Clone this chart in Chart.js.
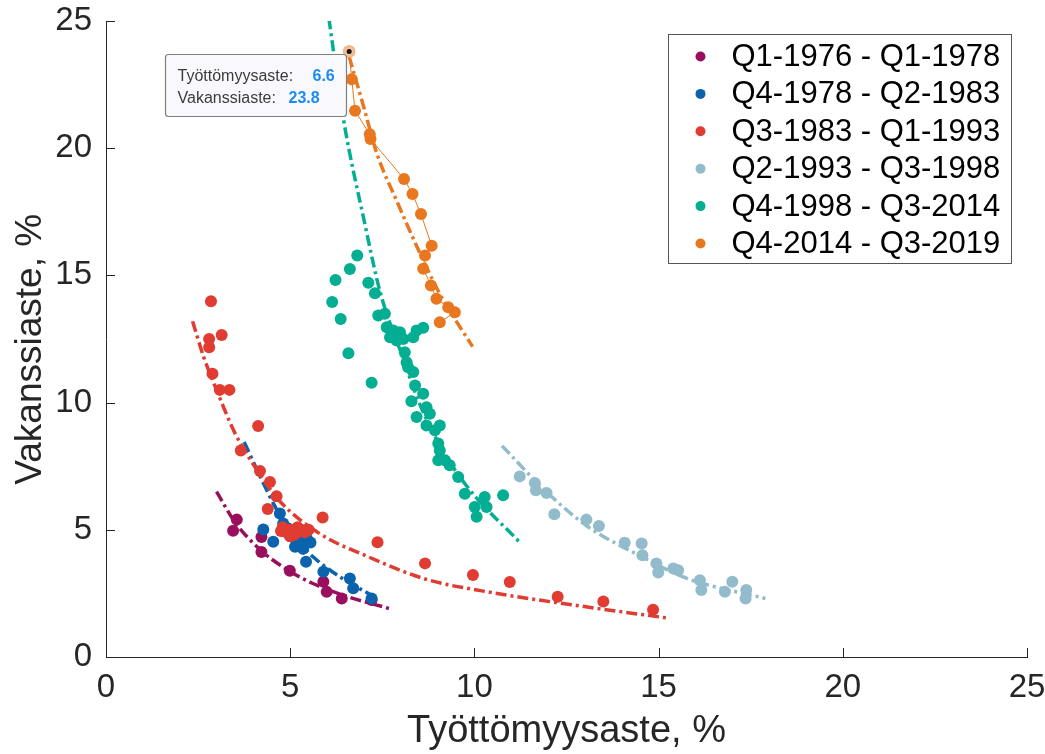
<!DOCTYPE html>
<html>
<head>
<meta charset="utf-8">
<script src="https://cdn.jsdelivr.net/npm/chart.js@4.4.1/dist/chart.umd.min.js"></script>
<style>
  html, body { margin: 0; padding: 0; background: #fff; }
  #wrap { width: 1045px; height: 754px; }
</style>
</head>
<body>
<div id="wrap"><canvas id="chart" width="1045" height="754"></canvas></div>
<script>
// series labels and colours
const labels = ['Q1-1976 - Q1-1978', 'Q4-1978 - Q2-1983', 'Q3-1983 - Q1-1993',
                'Q2-1993 - Q3-1998', 'Q4-1998 - Q3-2014', 'Q4-2014 - Q3-2019'];
const colors = ['#990f5e', '#0b63ad', '#e03c31', '#92bccb', '#03ae92', '#e8771f'];

// axis ticks
const xTicks = [0, 5, 10, 15, 20, 25];
const yTicks = [0, 5, 10, 15, 20, 25];

// observed points (unemployment %, vacancy %)
const x1 = [3.55, 3.45, 4.22, 4.22, 4.99, 5.90, 5.99, 6.40, 7.21];
const y1 = [5.40, 4.96, 4.72, 4.13, 3.39, 2.96, 2.56, 2.30, 2.24];

const x2 = [4.27, 4.54, 4.72, 4.81, 5.13, 5.45, 5.26, 5.43, 5.90, 6.62, 6.71, 7.21, 5.00, 5.20, 5.35, 5.55, 4.95];
const y2 = [5.01, 4.53, 5.64, 5.25, 4.33, 4.66, 4.46, 3.74, 3.35, 3.09, 2.70, 2.30, 4.75, 4.60, 4.25, 4.50, 5.05];

const x3 = [2.85, 2.80, 3.14, 2.80, 2.89, 3.09, 3.35, 4.13, 3.66, 4.18, 4.45, 4.63, 4.39, 4.80, 4.90, 5.00, 5.10,
            5.20, 5.30, 5.00, 4.75, 5.40, 5.50, 5.20, 5.88, 7.37, 8.66, 9.96, 10.96, 12.26, 13.50, 14.85];
const y3 = [13.98, 12.50, 12.66, 12.18, 11.13, 10.50, 10.50, 9.08, 8.12, 7.31, 6.88, 6.32, 5.82, 5.10, 4.90, 5.00, 4.80,
            4.90, 5.00, 4.75, 4.95, 4.90, 5.00, 5.10, 5.48, 4.51, 3.68, 3.22, 2.95, 2.37, 2.18, 1.86];

const x4 = [11.23, 11.64, 11.67, 11.96, 12.17, 13.04, 13.38, 14.08, 14.54, 14.56, 14.94, 14.99, 15.40, 15.53,
            16.12, 16.16, 16.80, 17.00, 17.38, 17.36];
const y4 = [7.10, 6.84, 6.55, 6.45, 5.61, 5.40, 5.15, 4.49, 4.46, 4.00, 3.68, 3.32, 3.48, 3.41,
            3.02, 2.63, 2.56, 2.96, 2.63, 2.30];

const x5 = [6.82, 6.62, 6.23, 6.14, 6.37, 6.58, 7.21, 7.12, 7.30, 7.39, 7.57, 7.62, 7.80, 7.98, 7.71, 7.89,
            8.07, 8.34, 8.43, 8.61, 8.11, 8.16, 8.20, 8.34, 8.39, 8.61, 8.29, 8.43, 8.70, 8.79, 8.70, 8.93,
            9.06, 9.02, 9.06, 9.02, 9.20, 9.33, 9.56, 9.74, 10.01, 10.06, 10.28, 10.33, 10.78];
const y5 = [15.78, 15.25, 14.82, 13.95, 13.29, 11.94, 10.78, 14.71, 14.30, 13.42, 13.49, 12.96, 12.83, 12.77, 12.57, 12.44,
            12.50, 12.57, 12.83, 12.94, 11.98, 11.59, 11.39, 11.20, 10.67, 10.35, 10.05, 9.43, 9.82, 9.56, 9.10, 8.91,
            9.10, 8.39, 8.12, 7.73, 7.73, 7.54, 7.08, 6.42, 5.90, 5.51, 6.29, 5.90, 6.36];

const x6 = [9.06, 9.47, 9.29, 8.97, 8.82, 8.61, 8.66, 8.84, 8.55, 8.32, 8.09, 7.18, 7.16, 6.76, 6.67, 6.60];
const y6 = [13.16, 13.55, 13.75, 14.08, 14.60, 15.26, 15.78, 16.17, 17.41, 18.20, 18.79, 20.36, 20.55, 21.47, 22.71, 23.80];

// fitted curves
const fx1 = [3.0, 3.5, 4.2, 4.9, 5.6, 6.5, 7.7];
const fy1 = [6.5, 5.3, 4.2, 3.45, 2.9, 2.4, 1.9];
const fx2 = [3.75, 4.2, 4.65, 5.1, 5.65, 6.35, 7.3];
const fy2 = [8.45, 7.05, 5.75, 4.75, 3.9, 3.15, 2.35];
const fx3 = [2.35, 2.65, 3.0, 3.5, 4.1, 4.7, 5.8, 7.1, 8.7, 10.2, 12.9, 15.3];
const fy3 = [13.2, 11.8, 10.5, 8.8, 7.35, 6.15, 4.85, 3.95, 3.05, 2.6, 2.0, 1.52];
const fx4 = [10.75, 11.95, 13.1, 14.4, 15.75, 17.9];
const fy4 = [8.3, 6.5, 5.1, 4.05, 3.1, 2.3];
const fx5 = [6.05, 6.45, 7.0, 7.45, 8.05, 8.5, 9.05, 9.8, 11.2];
const fy5 = [25.1, 21.1, 17.2, 14.3, 11.8, 10.0, 8.35, 6.7, 4.55];
const fx6 = [6.6, 7.0, 7.35, 7.9, 8.45, 9.05, 9.95];
const fy6 = [23.6, 21.6, 19.8, 17.9, 16.1, 14.3, 12.2];

// data tip
const tipPoint = [6.6, 23.8];
const tipNames = ['Työttömyysaste:', 'Vakanssiaste:'];

const pts = [[x1, y1], [x2, y2], [x3, y3], [x4, y4], [x5, y5], [x6, y6]];
const fits = [[fx1, fy1], [fx2, fy2], [fx3, fy3], [fx4, fy4], [fx5, fy5], [fx6, fy6]];
const toXY = (xs, ys) => xs.map((v, i) => ({ x: v, y: ys[i] }));

const axisColor = '#262626';
const fontFam = '"Liberation Sans", Arial, Helvetica, sans-serif';
Chart.defaults.font.family = fontFam;

const datasets = [];
pts.forEach((p, i) => {
  datasets.push({
    label: labels[i],
    data: toXY(p[0], p[1]),
    showLine: i === 5,
    borderColor: colors[i],
    borderWidth: 1,
    pointRadius: 6,
    pointBorderWidth: 0,
    pointBackgroundColor: colors[i],
    order: 100 - 2 * i
  });
  datasets.push({
    label: 'fit ' + labels[i],
    data: toXY(fits[i][0], fits[i][1]),
    showLine: true,
    borderColor: colors[i],
    borderWidth: 3.5,
    borderDash: [11, 4, 3, 4],
    pointRadius: 0,
    cubicInterpolationMode: 'monotone',
    order: 99 - 2 * i
  });
});

// inward ticks, legend box, data tip
const extras = {
  id: 'extras',
  afterDraw(chart) {
    const { ctx, chartArea: a, scales: { x, y } } = chart;
    ctx.save();
    ctx.strokeStyle = axisColor;
    ctx.lineWidth = 1;
    xTicks.forEach(v => {
      const px = Math.round(x.getPixelForValue(v)) + 0.5;
      ctx.beginPath(); ctx.moveTo(px, a.bottom); ctx.lineTo(px, a.bottom - 9); ctx.stroke();
    });
    yTicks.forEach(v => {
      const py = Math.round(y.getPixelForValue(v)) + 0.5;
      ctx.beginPath(); ctx.moveTo(a.left, py); ctx.lineTo(a.left + 9, py); ctx.stroke();
    });

    // legend
    const lw = 343, lh = 229;
    const lx = a.right - 16 - lw + 0.5, ly = a.top + 13 + 0.5;
    ctx.fillStyle = '#fff';
    ctx.fillRect(lx, ly, lw, lh);
    ctx.strokeStyle = '#555';
    ctx.strokeRect(lx, ly, lw, lh);
    ctx.font = '31px ' + fontFam;
    ctx.textBaseline = 'middle';
    ctx.textAlign = 'left';
    labels.forEach((t, i) => {
      const cy = ly + 22 + i * 37.4;
      ctx.fillStyle = colors[i];
      ctx.beginPath(); ctx.arc(lx + 32, cy, 5, 0, Math.PI * 2); ctx.fill();
      ctx.fillStyle = '#000';
      ctx.fillText(t, lx + 63, cy + 1);
    });

    // data tip
    const px = x.getPixelForValue(tipPoint[0]);
    const py = y.getPixelForValue(tipPoint[1]);
    ctx.fillStyle = 'rgba(255,255,255,0.55)';
    ctx.strokeStyle = '#f2b483';
    ctx.lineWidth = 1.5;
    ctx.beginPath(); ctx.arc(px, py, 5.5, 0, Math.PI * 2); ctx.fill(); ctx.stroke();
    ctx.fillStyle = '#111';
    ctx.beginPath(); ctx.arc(px, py, 2.5, 0, Math.PI * 2); ctx.fill();

    const bw = 181, bh = 62;
    const bx = Math.round(px - 3 - bw) + 0.5, by = Math.round(py + 2) + 0.5;
    ctx.fillStyle = '#f8f8fd';
    ctx.strokeStyle = '#7f7f7f';
    ctx.lineWidth = 1.2;
    ctx.beginPath(); ctx.roundRect(bx, by, bw, bh, 3); ctx.fill(); ctx.stroke();
    ctx.font = '16px ' + fontFam;
    ctx.fillStyle = '#3c3c3c';
    ctx.fillText(tipNames[0], bx + 12, by + 22);
    ctx.fillText(tipNames[1], bx + 12, by + 44);
    ctx.font = 'bold 16px ' + fontFam;
    ctx.fillStyle = '#1a8cf5';
    ctx.fillText(String(tipPoint[0]), bx + 147, by + 22);
    ctx.fillText(String(tipPoint[1]), bx + 123, by + 44);
    ctx.restore();
  }
};

new Chart(document.getElementById('chart'), {
  type: 'scatter',
  data: { datasets },
  options: {
    responsive: false,
    animation: false,
    layout: { padding: { top: 21, right: 18, left: 0, bottom: 0 } },
    plugins: { legend: { display: false }, tooltip: { enabled: false } },
    scales: {
      x: {
        type: 'linear', min: 0, max: 25,
        afterBuildTicks: s => { s.ticks = xTicks.map(v => ({ value: v })); },
        afterFit: s => { s.height = 97; s.paddingLeft = 0; s.paddingRight = 0; },
        ticks: { padding: 11, color: axisColor, font: { size: 33 } },
        grid: { drawOnChartArea: false, drawTicks: false },
        border: { color: axisColor, width: 1 },
        title: { display: true, text: 'Työttömyysaste, %', color: axisColor,
                 font: { size: 38 }, padding: { top: 0, bottom: 0 } }
      },
      y: {
        type: 'linear', min: 0, max: 25,
        afterBuildTicks: s => { s.ticks = yTicks.map(v => ({ value: v })); },
        afterFit: s => { s.width = 106; s.paddingTop = 0; s.paddingBottom = 0; },
        ticks: { padding: 14, color: axisColor, font: { size: 33 } },
        grid: { drawOnChartArea: false, drawTicks: false },
        border: { color: axisColor, width: 1 },
        // trailing spaces nudge the label down a little, like the original
        title: { display: true, text: 'Vakanssiaste, %  ', color: axisColor,
                 font: { size: 37 }, padding: { top: 9, bottom: 0 } }
      }
    }
  },
  plugins: [extras]
});
</script>
</body>
</html>
